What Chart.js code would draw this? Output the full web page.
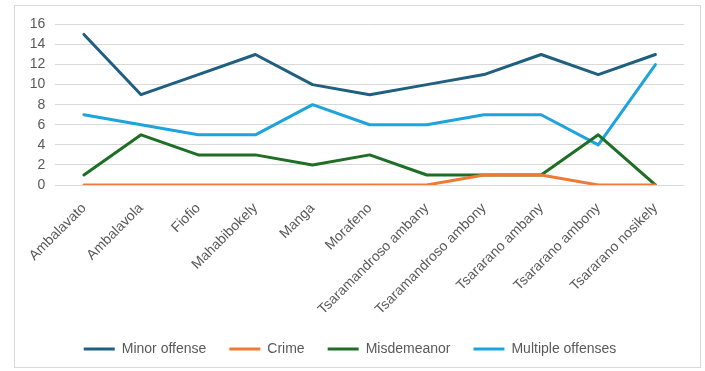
<!DOCTYPE html>
<html>
<head>
<meta charset="utf-8">
<script src="https://cdn.jsdelivr.net/npm/chart.js@4/dist/chart.umd.min.js"></script>
<style>
  html, body { margin: 0; padding: 0; background: #fff; overflow: hidden; }
  #frame {
    position: absolute; left: 14px; top: 5px;
    width: 687px; height: 363px;
    border: 1px solid #d9d9d9; box-sizing: border-box;
  }
  #chart-box { position: absolute; left: 0; top: 0; width: 685px; height: 360px; }
</style>
</head>
<body>
<div id="frame"><div id="chart-box"><canvas id="offense-chart"></canvas></div></div>
<script>
// chart data
var villages = ["Ambalavato", "Ambalavola", "Fiofio", "Mahabibokely", "Manga", "Morafeno",
    "Tsaramandroso ambany", "Tsaramandroso ambony", "Tsararano ambany", "Tsararano ambony", "Tsararano nosikely"];
var minorOffense = [15, 9, 11, 13, 10, 9, 10, 11, 13, 11, 13];
var crime = [0, 0, 0, 0, 0, 0, 0, 1, 1, 0, 0];
var misdemeanor = [1, 5, 3, 3, 2, 3, 1, 1, 1, 5, 0];
var multipleOffenses = [7, 6, 5, 5, 8, 6, 6, 7, 7, 4, 12];
var yTicks = [0, 2, 4, 6, 8, 10, 12, 14, 16];

var textColor = '#595959';
var gridColor = '#d9d9d9';
var fontFamily = '"Liberation Sans", Arial, sans-serif';

function makeSet(label, data, color) {
    return {
        label: label,
        data: data,
        borderColor: color,
        backgroundColor: color,
        borderWidth: 3,
        borderCapStyle: 'round',
        borderJoinStyle: 'round',
        pointRadius: 0,
        tension: 0,
        fill: false
    };
}

var ctx = document.getElementById('offense-chart').getContext('2d');
var chart = new Chart(ctx, {
    type: 'line',
    data: {
        labels: villages,
        datasets: [
            makeSet('Minor offense', minorOffense, '#1f5f80'),
            makeSet('Crime', crime, '#ef7a35'),
            makeSet('Misdemeanor', misdemeanor, '#1e6e25'),
            makeSet('Multiple offenses', multipleOffenses, '#1ea4dc')
        ]
    },
    options: {
        responsive: true,
        maintainAspectRatio: false,
        animation: false,
        layout: { padding: { left: 1, right: 16, top: 11, bottom: 0 } },
        plugins: {
            tooltip: { enabled: false },
            legend: {
                position: 'bottom',
                labels: {
                    usePointStyle: true,
                    pointStyle: 'line',
                    pointStyleWidth: 31,
                    boxHeight: 3,
                    color: textColor,
                    font: { family: fontFamily, size: 14 },
                    padding: 23
                }
            }
        },
        scales: {
            x: {
                offset: true,
                grid: { display: false, drawTicks: false },
                border: { display: false },
                ticks: {
                    color: textColor,
                    font: { family: fontFamily, size: 14 },
                    minRotation: 45,
                    maxRotation: 45,
                    autoSkip: false,
                    padding: 15
                },
                // labels may reach into the legend's top padding
                afterFit: function(axis) { axis.height = 134; }
            },
            y: {
                min: 0,
                max: 16,
                afterBuildTicks: function(axis) {
                    axis.ticks = yTicks.map(function(v) { return { value: v }; });
                },
                grid: { color: gridColor, lineWidth: 1, drawTicks: false },
                border: { display: false },
                ticks: {
                    color: textColor,
                    font: { family: fontFamily, size: 14 },
                    padding: 10
                }
            }
        }
    }
});
</script>
</body>
</html>
